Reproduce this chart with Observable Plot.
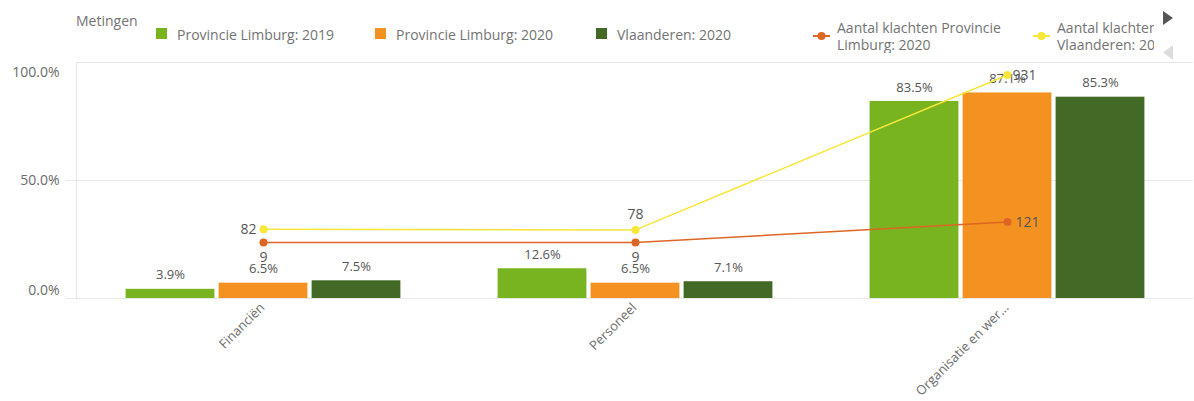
<!DOCTYPE html>
<html>
<head>
<meta charset="utf-8">
<script src="https://cdn.jsdelivr.net/npm/d3@7"></script>
<script src="https://cdn.jsdelivr.net/npm/@observablehq/plot@0.6"></script>
<style>
  html, body { margin: 0; padding: 0; background: #fff; }
  #wrap { position: relative; width: 1194px; height: 401px; overflow: hidden; font-family: "Open Sans", sans-serif; }
  #legend { position: relative; width: 1194px; height: 50px; font-size: 14px; color: #737373; }
  #legend .item { position: absolute; white-space: nowrap; line-height: 16px; }
  #legend .sw { position: absolute; width: 11px; height: 11px; }
  #chart svg { display: block; }
</style>
</head>
<body>
<div id="wrap">
  <div id="legend"></div>
  <div id="chart"></div>
</div>
<script>
// ---- data ----
const categories = ["Financiën", "Personeel", "Organisatie en wer..."];
const barSeries = ["Provincie Limburg: 2019", "Provincie Limburg: 2020", "Vlaanderen: 2020"];
const limburg2019 = [3.9, 12.6, 83.5];
const limburg2020 = [6.5, 6.5, 87.1];
const vlaanderen2020 = [7.5, 7.1, 85.3];
const lineSeries = ["Aantal klachten Provincie Limburg: 2020", "Aantal klachten Vlaanderen: 2020"];
const klachtenLimburg = [9, 9, 121];
const klachtenVlaanderen = [82, 78, 931];
const yTicks = [0, 50, 100];
const countAxisDomain = [-300, 1000]; // hidden secondary axis
const legendTitle = "Metingen";

// ---- styles ----
const barColors = ["#77b41f", "#f39220", "#426a26"];
const lineColors = ["#dd6625", "#f8e63a"];
const textColor = "#6b6b6b";

// secondary axis mapping (counts -> primary percent scale)
const toPrimary = c => (c - countAxisDomain[0]) / (countAxisDomain[1] - countAxisDomain[0]) * 100;

const barValues = [limburg2019, limburg2020, vlaanderen2020];
const barRows = barSeries.map((s, i) => categories.map((c, j) => ({cat: c, series: s, value: barValues[i][j]})));
const lineValues = [klachtenLimburg, klachtenVlaanderen];
const lineRows = lineSeries.map((s, i) => categories.map((c, j) => ({cat: c, series: s, count: lineValues[i][j], y: toPrimary(lineValues[i][j])})));

// ---- legend (HTML) ----
const legend = document.getElementById("legend");
function add(html, style) { const d = document.createElement("div"); d.className = "item"; d.innerHTML = html; Object.assign(d.style, style); legend.appendChild(d); return d; }
add(legendTitle, {left: "76px", top: "13px"});
const barLeg = [156, 375, 596];
barSeries.forEach((s, i) => {
  const sw = document.createElement("div"); sw.className = "sw";
  Object.assign(sw.style, {left: barLeg[i] + "px", top: "28px", background: barColors[i]});
  legend.appendChild(sw);
  add(s, {left: (barLeg[i] + 21) + "px", top: "27px"});
});
const lineLeg = [813, 1033];
const lineLegText = [["Aantal klachten Provincie", "Limburg: 2020"], ["Aantal klachten", "Vlaanderen: 2020"]];
lineSeries.forEach((s, i) => {
  const m = document.createElement("div");
  m.className = "item";
  Object.assign(m.style, {left: lineLeg[i] + "px", top: "29px", width: "17px", height: "12px"});
  m.innerHTML = `<svg width="17" height="12"><line x1="0" x2="17" y1="6" y2="6" stroke="${lineColors[i]}" stroke-width="2"/><circle cx="8.5" cy="6" r="4" fill="${lineColors[i]}"/></svg>`;
  legend.appendChild(m);
  const t = add(lineLegText[i].join("<br>"), {left: (lineLeg[i] + 24) + "px", top: "19px", lineHeight: "17px", overflow: "hidden"});
  t.title = s;
  if (i === 1) t.style.width = "97px";
});
// pager arrows
add(`<svg width="10" height="14"><polygon points="0,0 10,7 0,14" fill="#555"/></svg>`, {left: "1163px", top: "11px"});
add(`<svg width="10" height="15"><polygon points="10,0 0,7.5 10,15" fill="#ddd"/></svg>`, {left: "1163px", top: "45px"});

// ---- chart ----
const offsets = [-93, 0, 93];
const inset = 141.6;
const pct = d => d.toFixed(1) + "%";
const labelStyle = {fill: "#555", fontSize: 13};

const marks = [
  Plot.ruleY([0, 50], {stroke: "#e8e8e8", insetLeft: -10}),
  Plot.ruleY([100], {stroke: "#e8e8e8"}),
  Plot.frame({anchor: "left", stroke: "#e8e8e8"}),
  Plot.axisY([100], {tickSize: 0, tickPadding: 17, dy: 10, tickFormat: pct, fontSize: 14, fill: textColor}),
  Plot.axisY([50], {tickSize: 0, tickPadding: 17, tickFormat: pct, fontSize: 14, fill: textColor}),
  Plot.axisY([0], {tickSize: 0, tickPadding: 17, dy: -8, tickFormat: pct, fontSize: 14, fill: textColor}),
  Plot.axisX({tickSize: 0, tickPadding: 7, tickRotate: -45, dx: -1, fontSize: 13, fill: textColor})
];
barRows.forEach((rows, i) => {
  marks.push(Plot.barY(rows, {x: "cat", y: "value", fill: barColors[i], dx: offsets[i], insetLeft: inset, insetRight: inset}));
  marks.push(Plot.text(rows, {x: "cat", y: "value", text: d => pct(d.value), dx: offsets[i], dy: -14, ...labelStyle}));
});
lineRows.forEach((rows, i) => {
  marks.push(Plot.line(rows, {x: "cat", y: "y", stroke: lineColors[i], strokeWidth: 1.5}));
  marks.push(Plot.dot(rows, {x: "cat", y: "y", r: 4, fill: lineColors[i]}));
});
const lineLabel = {x: "cat", y: "y", text: d => String(d.count), fill: "#555", fontSize: 14};
// Limburg count labels
marks.push(Plot.text(lineRows[0].slice(0, 2), {...lineLabel, dy: 15}));
marks.push(Plot.text(lineRows[0].slice(2), {...lineLabel, dx: 8, textAnchor: "start"}));
// Vlaanderen count labels
marks.push(Plot.text(lineRows[1].slice(0, 1), {...lineLabel, dx: -7, textAnchor: "end"}));
marks.push(Plot.text(lineRows[1].slice(1, 2), {...lineLabel, dy: -15}));
marks.push(Plot.text(lineRows[1].slice(2), {...lineLabel, dx: 5, textAnchor: "start"}));

const chart = Plot.plot({
  width: 1194,
  height: 351,
  marginLeft: 76,
  marginRight: 1,
  marginTop: 12,
  marginBottom: 103,
  x: {type: "band", domain: categories, padding: 0, label: null},
  y: {domain: [0, 100], label: null},
  style: {fontFamily: "'Open Sans', sans-serif", fontSize: "12px", color: textColor, background: "#fff"},
  marks
});
document.getElementById("chart").appendChild(chart);
</script>
</body>
</html>
